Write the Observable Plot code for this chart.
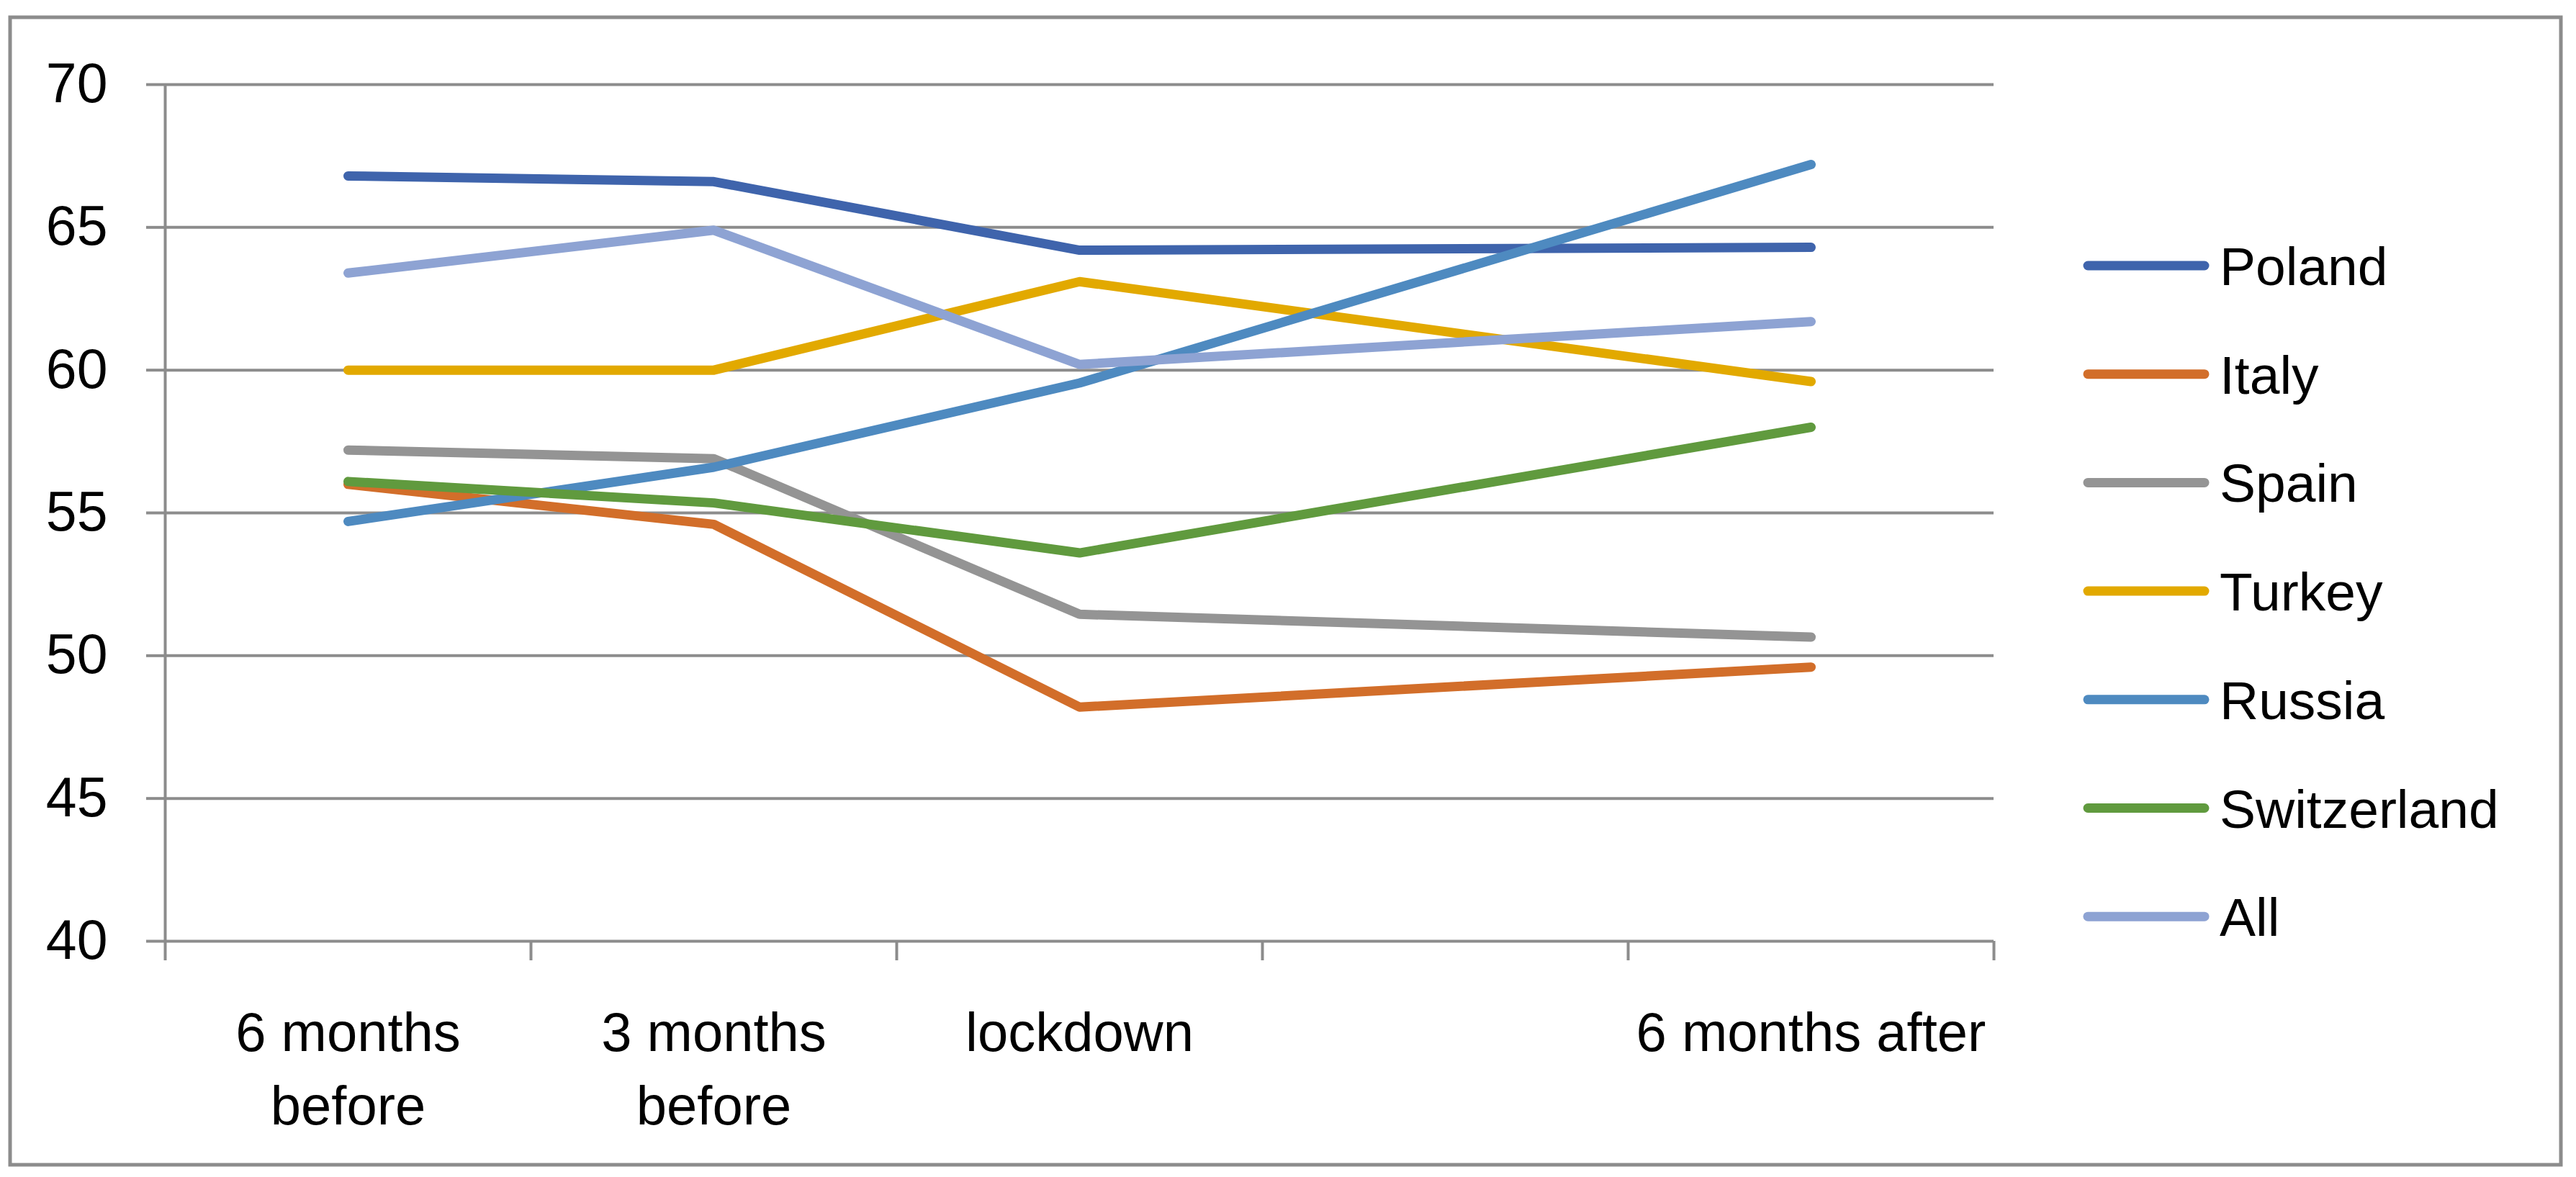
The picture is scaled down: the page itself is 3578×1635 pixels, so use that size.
<!DOCTYPE html>
<html>
<head>
<meta charset="utf-8">
<script src="https://cdn.jsdelivr.net/npm/d3@7"></script>
<script src="https://cdn.jsdelivr.net/npm/@observablehq/plot@0.6"></script>
<style>
  html, body { margin: 0; padding: 0; background: #fff; }
  #wrap { position: relative; width: 3578px; height: 1635px; overflow: hidden; }
  #wrap svg { position: absolute; left: 0; top: 0; }
</style>
</head>
<body>
<div id="wrap"></div>
<script>
// ---- data ----
const categories = ["6 months before", "3 months before", "lockdown", "", "6 months after"];
const categoryLabels = ["6 months\nbefore", "3 months\nbefore", "lockdown", "", "6 months after"];
const seriesNames = ["Poland", "Italy", "Spain", "Turkey", "Russia", "Switzerland", "All"];
const seriesColors = ["#3F64AC", "#D26E2A", "#949494", "#E2A900", "#4E8AC0", "#609A3E", "#8EA3D3"];
// values at: 6 months before, 3 months before, lockdown, (blank), 6 months after
const poland      = [66.8, 66.6, 64.2, null, 64.3];
const italy       = [56.0, 54.6, 48.2, null, 49.6];
const spain       = [57.2, 56.9, 51.45, null, 50.65];
const turkey      = [60.0, 60.0, 63.1, null, 59.6];
const russia      = [54.7, 56.6, 59.55, null, 67.2];
const switzerland = [56.1, 55.35, 53.6, null, 58.0];
const all         = [63.4, 64.9, 60.2, null, 61.7];
const yTicks = [40, 45, 50, 55, 60, 65, 70];

const seriesValues = [poland, italy, spain, turkey, russia, switzerland, all];
const rows = [];
seriesNames.forEach((name, s) => {
  seriesValues[s].forEach((v, i) => {
    if (v != null) rows.push({series: name, category: categories[i], xi: i + 0.5, value: v});
  });
});

const gridColor = "#8C8C8C";
const W = 3578, H = 1635;
const fontFamily = "'Liberation Sans', Arial, sans-serif";

const chart = Plot.plot({
  width: W,
  height: H,
  marginLeft: 229,
  marginRight: W - 2769,
  marginTop: 117,
  marginBottom: H - 1307,
  style: {fontFamily, fontSize: "76px", color: "black", background: "transparent", overflow: "visible"},
  x: {type: "linear", domain: [0, categories.length], label: null},
  y: {domain: [40, 70], label: null},
  color: {domain: seriesNames, range: seriesColors},
  marks: [
    Plot.ruleY(yTicks, {stroke: gridColor, strokeWidth: 4}),
    Plot.ruleX([0], {y1: 40, y2: 70, stroke: gridColor, strokeWidth: 4}),
    Plot.axisY({ticks: yTicks, tickSize: 26, tickPadding: 54, stroke: gridColor, strokeWidth: 4, fill: "black", fontSize: 77}),
    Plot.axisX({ticks: d3.range(categories.length + 1), tickSize: 27, tickFormat: () => "", stroke: gridColor, strokeWidth: 4}),
    Plot.axisX({
      ticks: categories.map((c, i) => i + 0.5).filter((v, i) => categoryLabels[i] !== ""),
      tickSize: 0, tickPadding: 80,
      tickFormat: v => categoryLabels[Math.floor(v)],
      lineHeight: 1.34, fontSize: 76, fill: "black"
    }),
    Plot.line(rows, {x: "xi", y: "value", z: "series", stroke: "series", strokeWidth: 13, strokeLinecap: "round", strokeLinejoin: "round"})
  ]
});
document.getElementById("wrap").appendChild(chart);

// ---- overlay: outer border and legend ----
const svg = d3.select("#wrap").append("svg").attr("width", W).attr("height", H);
svg.append("rect").attr("x", 14).attr("y", 24).attr("width", 3543).attr("height", 1594)
  .attr("fill", "none").attr("stroke", gridColor).attr("stroke-width", 5);
const leg = svg.append("g");
seriesNames.forEach((name, i) => {
  const y = 369 + i * 150.7;
  leg.append("line").attr("x1", 2900).attr("x2", 3062).attr("y1", y).attr("y2", y)
    .attr("stroke", seriesColors[i]).attr("stroke-width", 13).attr("stroke-linecap", "round");
  leg.append("text").attr("x", 3083).attr("y", y + 27).text(name)
    .attr("font-family", fontFamily).attr("font-size", 75).attr("fill", "black");
});
</script>
</body>
</html>
